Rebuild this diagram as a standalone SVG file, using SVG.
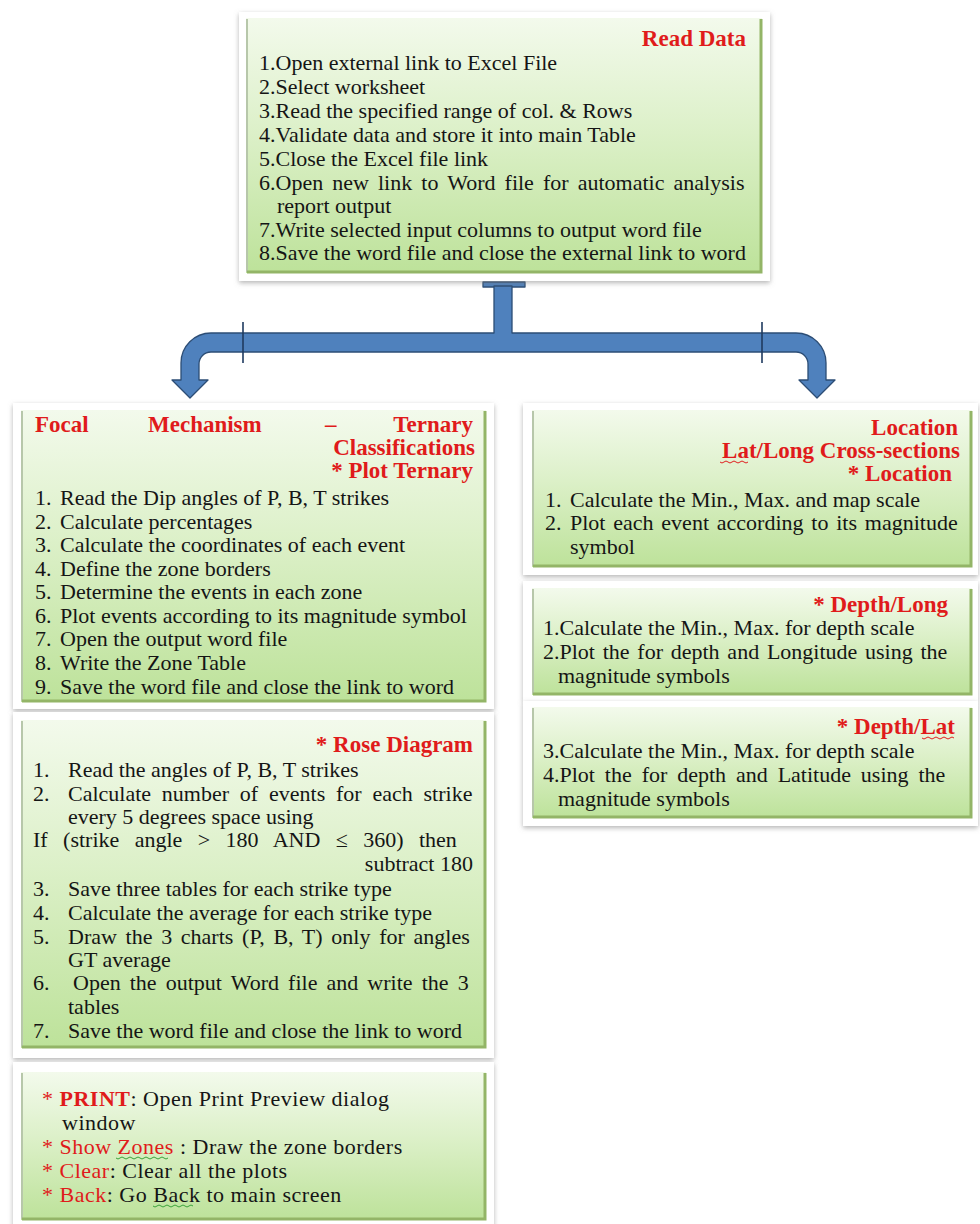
<svg xmlns="http://www.w3.org/2000/svg" width="980" height="1224" viewBox="0 0 980 1224">
<defs>
<linearGradient id="g" x1="0" y1="0" x2="0" y2="1">
<stop offset="0" stop-color="#f3faec"/>
<stop offset="0.45" stop-color="#dcf0c8"/>
<stop offset="1" stop-color="#bde29a"/>
</linearGradient>
<filter id="sh" x="-5%" y="-5%" width="110%" height="115%">
<feDropShadow dx="0" dy="2" stdDeviation="2.5" flood-color="#7a7a7a" flood-opacity="0.55"/>
</filter>
<style>
.frame{fill:#ffffff;filter:url(#sh)}
.panel{fill:url(#g)}
.bev{fill:none;stroke:#93b567;stroke-width:3}
.bevl{fill:none;stroke:#b7c7aa;stroke-width:2}
text{font-family:"Liberation Serif","Times New Roman",serif;font-size:22px;fill:#151515}
.h{font-weight:bold;font-size:23px;fill:#e01b1b}
.p{font-size:22px;letter-spacing:0.5px}
.r{fill:#e01b1b}
.end{text-anchor:end}
.arrow{fill:#4f81bd;stroke:#2c4d75;stroke-width:1.3;stroke-linejoin:round}
.tick{stroke:#1f3a5f;stroke-width:1.6}
.wr{fill:none;stroke:#e02020;stroke-width:1}
.wg{fill:none;stroke:#3aa33a;stroke-width:1}
</style>
</defs>
<rect width="980" height="1224" fill="#ffffff"/>

<g id="connectors">
<rect class="arrow" x="483" y="282" width="42" height="5"/>
<path class="arrow" d="M494,286 L494,333 L211,333 A30,30 0 0 0 181,363 L181,380 L172,380 L190,398 L208,380 L199,380 L199,364 A12,12 0 0 1 211,352 L796,352 A12,12 0 0 1 808,364 L808,380 L799,380 L817,398 L835,380 L826,380 L826,363 A30,30 0 0 0 796,333 L512,333 L512,286 Z"/>
<line class="tick" x1="243" y1="322" x2="243" y2="363"/>
<line class="tick" x1="762" y1="322" x2="762" y2="363"/>
</g>

<g id="read-data">
<rect class="frame" x="239" y="12" width="531" height="269"/>
<rect class="panel" x="246" y="18" width="516" height="255"/>
<path class="bevl" d="M247,272 L247,19"/>
<path class="bev" d="M247,272 L761,272 L761,19"/>
<text class="h end" x="746" y="46">Read Data</text>
<text x="259" y="70">1.Open external link to Excel File</text>
<text x="259" y="94">2.Select worksheet</text>
<text x="259" y="118">3.Read the specified range of col. &amp; Rows</text>
<text x="259" y="142">4.Validate data and store it into main Table</text>
<text x="259" y="166">5.Close the Excel file link</text>
<text x="259" y="190" style="word-spacing:3.6px">6.Open new link to Word file for automatic analysis</text>
<text x="277" y="213">report output</text>
<text x="259" y="237">7.Write selected input columns to output word file</text>
<text x="259" y="260">8.Save the word file and close the external link to word</text>
</g>

<g id="focal-mechanism">
<rect class="frame" x="13" y="403" width="481" height="306"/>
<rect class="panel" x="21" y="410" width="465" height="292"/>
<path class="bevl" d="M22,701 L22,411"/>
<path class="bev" d="M22,701 L485,701 L485,411"/>
<text class="h" x="35" y="432">Focal</text>
<text class="h" x="148" y="432">Mechanism</text>
<text class="h" x="325" y="432">–</text>
<text class="h end" x="473" y="432">Ternary</text>
<text class="h end" x="475" y="455">Classifications</text>
<text class="h end" x="473" y="478">* Plot Ternary</text>
<text x="35" y="505">1.</text><text x="60" y="505">Read the Dip angles of P, B, T strikes</text>
<text x="35" y="529">2.</text><text x="60" y="529">Calculate percentages</text>
<text x="35" y="552">3.</text><text x="60" y="552">Calculate the coordinates of each event</text>
<text x="35" y="576">4.</text><text x="60" y="576">Define the zone borders</text>
<text x="35" y="599">5.</text><text x="60" y="599">Determine the events in each zone</text>
<text x="35" y="623">6.</text><text x="60" y="623">Plot events according to its magnitude symbol</text>
<text x="35" y="646">7.</text><text x="60" y="646">Open the output word file</text>
<text x="35" y="670">8.</text><text x="60" y="670">Write the Zone Table</text>
<text x="35" y="694">9.</text><text x="60" y="694">Save the word file and close the link to word</text>
</g>

<g id="rose-diagram">
<rect class="frame" x="13" y="712" width="481" height="346"/>
<rect class="panel" x="21" y="720" width="465" height="328"/>
<path class="bevl" d="M22,1047 L22,721"/>
<path class="bev" d="M22,1047 L485,1047 L485,721"/>
<text class="h end" x="473" y="752">* Rose Diagram</text>
<text x="33" y="777">1.</text><text x="68" y="777">Read the angles of P, B, T strikes</text>
<text x="33" y="801">2.</text><text x="68" y="801" style="word-spacing:5.3px">Calculate number of events for each strike</text>
<text x="68" y="824">every 5 degrees space using</text>
<text x="33" y="847" style="word-spacing:9.9px">If (strike angle &gt; 180 AND ≤ 360) then</text>
<text class="end" x="473" y="871">subtract 180</text>
<text x="33" y="896">3.</text><text x="68" y="896">Save three tables for each strike type</text>
<text x="33" y="920">4.</text><text x="68" y="920">Calculate the average for each strike type</text>
<text x="33" y="944">5.</text><text x="68" y="944" style="word-spacing:3.2px">Draw the 3 charts (P, B, T) only for angles</text>
<text x="68" y="967">GT average</text>
<text x="33" y="990">6.</text><text x="73" y="990" style="word-spacing:3.6px">Open the output Word file and write the 3</text>
<text x="68" y="1014">tables</text>
<text x="33" y="1038">7.</text><text x="68" y="1038">Save the word file and close the link to word</text>
</g>

<g id="print-options">
<rect class="frame" x="13" y="1062" width="481" height="170"/>
<rect class="panel" x="21" y="1072" width="465" height="148"/>
<path class="bevl" d="M22,1219 L22,1073"/>
<path class="bev" d="M22,1219 L485,1219 L485,1073"/>
<text class="p" x="42" y="1106"><tspan class="r">* </tspan><tspan class="r" font-weight="bold">PRINT</tspan>:  Open Print Preview dialog</text>
<text class="p" x="62" y="1130">window</text>
<text class="p" x="42" y="1154"><tspan class="r">* Show Zones </tspan>: Draw the zone borders</text>
<text class="p" x="42" y="1178"><tspan class="r">* Clear</tspan>: Clear all the plots</text>
<text class="p" x="42" y="1202"><tspan class="r">* Back</tspan>: Go Back to main screen</text>
<path class="wg" d="M116,1158 q2,2 4,0 t4,0 t4,0 t4,0 t4,0 t4,0 t4,0 t4,0 t4,0 t4,0 t4,0 t4,0 t4,0"/>
<path class="wg" d="M153,1206 q2,2 4,0 t4,0 t4,0 t4,0 t4,0 t4,0 t4,0 t4,0 t4,0 t4,0"/>
</g>

<g id="location">
<rect class="frame" x="523" y="403" width="455" height="172"/>
<rect class="panel" x="532" y="410" width="440" height="157"/>
<path class="bevl" d="M533,566 L533,411"/>
<path class="bev" d="M533,566 L971,566 L971,411"/>
<text class="h end" x="958" y="435">Location</text>
<text class="h end" x="960" y="458">Lat/Long Cross-sections</text>
<text class="h end" x="952" y="481">* Location</text>
<path class="wr" d="M720,462 q2,2 4,0 t4,0 t4,0 t4,0 t4,0 t4,0 t4,0"/>
<text x="545" y="507">1.</text><text x="570" y="507">Calculate the Min., Max. and map scale</text>
<text x="545" y="530">2.</text><text x="570" y="530" style="word-spacing:2.3px">Plot each event according to its magnitude</text>
<text x="570" y="554">symbol</text>
</g>

<g id="depth-long">
<rect class="frame" x="523" y="581" width="455" height="120"/>
<rect class="panel" x="532" y="588" width="440" height="107"/>
<path class="bevl" d="M533,694 L533,589"/>
<path class="bev" d="M533,694 L971,694 L971,589"/>
<text class="h end" x="948" y="612">* Depth/Long</text>
<text x="543" y="635">1.Calculate the Min., Max. for depth scale</text>
<text x="543" y="659" style="word-spacing:2.25px">2.Plot the for depth and Longitude using the</text>
<text x="558" y="683">magnitude symbols</text>
</g>

<g id="depth-lat">
<rect class="frame" x="523" y="701" width="455" height="125"/>
<rect class="panel" x="532" y="707" width="440" height="111"/>
<path class="bevl" d="M533,817 L533,708"/>
<path class="bev" d="M533,817 L971,817 L971,708"/>
<text class="h end" x="955" y="734">* Depth/Lat</text>
<path class="wr" d="M922,738 q2,2 4,0 t4,0 t4,0 t4,0 t4,0 t4,0 t4,0 t4,0"/>
<text x="543" y="758">3.Calculate the Min., Max. for depth scale</text>
<text x="543" y="782" style="word-spacing:4.4px">4.Plot the for depth and Latitude using the</text>
<text x="558" y="806">magnitude symbols</text>
</g>
</svg>
